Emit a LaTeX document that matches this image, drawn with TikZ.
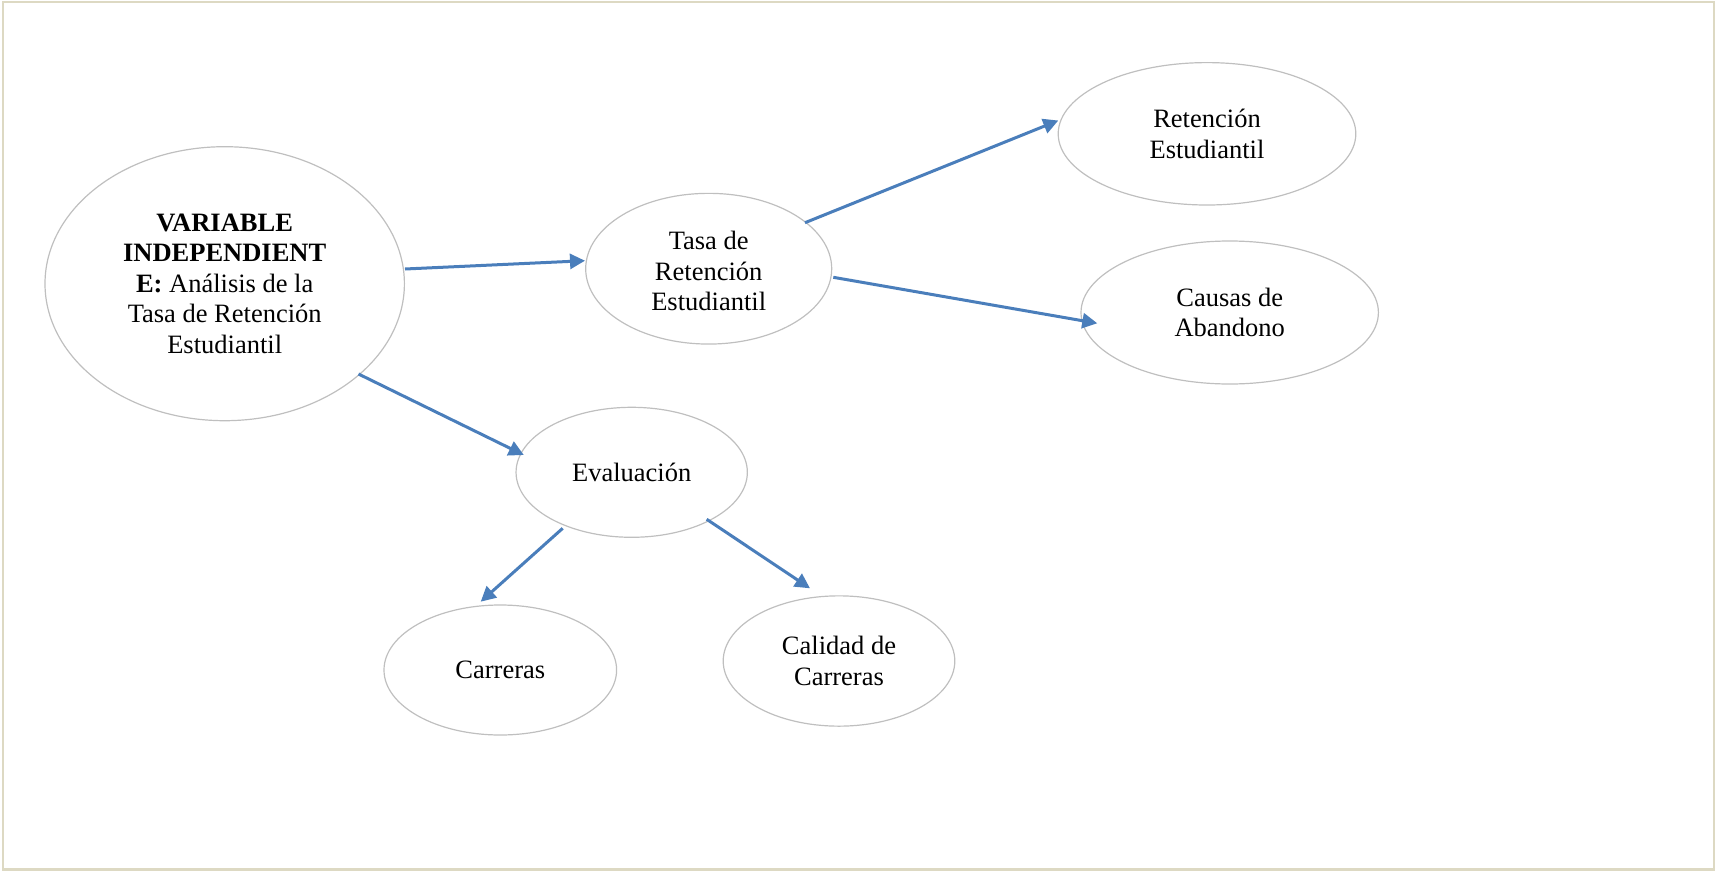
\documentclass[tikz,border=0pt]{standalone}
\usepackage{fontspec}
\setmainfont{Liberation Serif}
\usetikzlibrary{shapes.geometric,arrows.meta,calc}
\definecolor{framebeige}{HTML}{DDD9C3}
\definecolor{ovalgray}{HTML}{BFBFBF}
\definecolor{linkblue}{HTML}{4A7EBB}
\begin{document}
\begin{tikzpicture}[x=1bp,y=-1bp,
  oval/.style={ellipse, draw=ovalgray, line width=1.2bp, inner sep=0pt,
    outer sep=0pt, align=center, font=\fontsize{26.5bp}{30.5bp}\selectfont},
  link/.style={draw=linkblue, line width=3bp,
    -{Triangle[length=15bp,width=15bp]}}]
  \useasboundingbox (0,0) rectangle (1715,872);
  % outer frame
  \draw[framebeige, line width=2.5bp] (3,2) rectangle (1714,869.5);

  % concept ovals
  \node[oval, minimum width=359.4bp, minimum height=274bp] (main) at (224.7,283.7)
    {\textbf{VARIABLE}\\\textbf{INDEPENDIENT}\\\textbf{E:} Análisis de la\\Tasa de Retención\\Estudiantil};
  \node[oval, minimum width=246bp, minimum height=150.7bp] (tasa) at (708.7,268.7)
    {\rule{0pt}{23.5bp}Tasa de\\Retención\\Estudiantil};
  \node[oval, minimum width=231.3bp, minimum height=130bp] (eval) at (631.7,472.3)
    {Evaluación};
  \node[oval, minimum width=232.6bp, minimum height=130bp] (carr) at (500.3,670)
    {Carreras};
  \node[oval, minimum width=231.6bp, minimum height=130.3bp] (cal) at (839,661)
    {Calidad de\\Carreras};
  \node[oval, minimum width=297.6bp, minimum height=142.4bp] (ret) at (1207,133.8)
    {Retención\\Estudiantil};
  \node[oval, minimum width=297.4bp, minimum height=143bp] (caus) at (1229.7,312.5)
    {Causas de\\Abandono};

  % connectors, attached at fixed offsets from the oval centres
  \draw[link] ($(main.center)+(180.3,-14.7)$) -- ($(tasa.center)+(-123.7,-8)$);
  \draw[link] ($(tasa.center)+(96.3,-46)$) -- ($(ret.center)+(-148.7,-13.3)$);
  \draw[link] ($(tasa.center)+(124.6,8.6)$) -- ($(caus.center)+(-132.4,10.8)$);
  \draw[link] ($(main.center)+(133.8,90.3)$) -- ($(eval.center)+(-107.9,-17.3)$);
  \draw[link] ($(eval.center)+(-69,56)$) -- ($(carr.center)+(-19.6,-68.3)$);
  \draw[link] ($(eval.center)+(75,47)$) -- ($(cal.center)+(-29,-72.7)$);
\end{tikzpicture}
\end{document}
